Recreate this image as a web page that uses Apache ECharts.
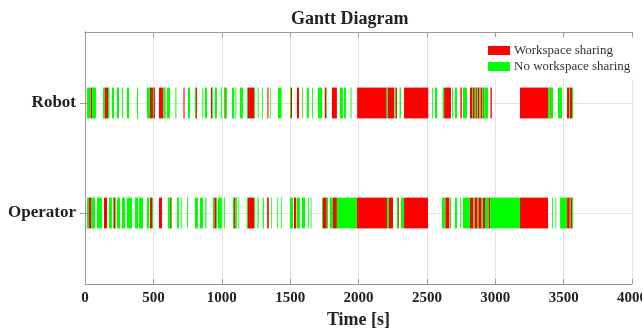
<!DOCTYPE html>
<html>
<head>
<meta charset="utf-8">
<script src="https://cdn.jsdelivr.net/npm/echarts@6/dist/echarts.min.js"></script>
<style>
  html, body { margin: 0; padding: 0; background: #fff; }
  #chart { width: 642px; height: 329px; }
</style>
</head>
<body>
<div id="chart"></div>
<script>
// Rows of the schedule, bottom to top (y = 1, 2)
const rows = ['Operator', 'Robot'];
const seriesNames = ['Workspace sharing', 'No workspace sharing'];
const yTickValues = [1, 2];

// Time intervals [start, end] in seconds
const robotSharing = [
  [40, 52], [146, 168], [475, 497], [505, 512], [541, 570], [575, 580], [720, 728],
  [812, 819], [921, 930], [1026, 1032], [1192, 1236], [1334, 1342], [1506, 1514],
  [1550, 1565], [1754, 1764], [1806, 1842], [1990, 2206], [2215, 2260], [2270, 2281],
  [2333, 2510], [2626, 2676], [2745, 2755], [2815, 2830], [2836, 2850], [2856, 2866],
  [2872, 2884], [2892, 2904], [2912, 2920], [2965, 2975], [3181, 3386], [3398, 3405],
  [3525, 3540], [3546, 3562]
];
const robotFree = [
  [15, 40], [52, 80], [132, 146], [168, 178], [197, 212], [234, 249], [272, 278],
  [307, 322], [380, 387], [453, 475], [497, 505], [570, 575], [580, 590], [600, 621],
  [661, 668], [753, 768], [804, 812], [858, 865], [877, 892], [930, 936], [950, 965],
  [993, 1000], [1016, 1026], [1032, 1038], [1075, 1090], [1100, 1106], [1133, 1155],
  [1184, 1192], [1236, 1243], [1263, 1270], [1294, 1300], [1352, 1358], [1411, 1433],
  [1436, 1440], [1499, 1506], [1587, 1593], [1623, 1637], [1660, 1666], [1703, 1733],
  [1764, 1769], [1864, 1886], [1893, 1908], [1942, 1949], [2206, 2215], [2262, 2270],
  [2300, 2310], [2538, 2544], [2559, 2574], [2616, 2626], [2684, 2690], [2705, 2720],
  [2764, 2793], [2830, 2836], [2850, 2856], [2866, 2872], [2884, 2892], [2904, 2912],
  [2920, 2947], [3386, 3398], [3405, 3423], [3459, 3488], [3540, 3546], [3562, 3569]
];
const operatorSharing = [
  [25, 45], [139, 161], [208, 222], [475, 490], [541, 563], [620, 628], [945, 958],
  [1090, 1100], [1192, 1236], [1332, 1344], [1528, 1545], [1740, 1768], [1813, 1842],
  [1989, 2208], [2223, 2252], [2290, 2296], [2333, 2508], [2635, 2665], [2815, 2840],
  [2848, 2870], [2876, 2900], [2908, 2925], [2950, 2962], [3181, 3386], [3525, 3545],
  [3550, 3562]
];
const operatorFree = [
  [15, 25], [45, 73], [88, 124], [175, 197], [205, 208], [222, 227], [234, 256],
  [270, 292], [307, 344], [366, 388], [395, 424], [453, 470], [490, 497], [607, 620],
  [628, 636], [673, 687], [700, 707], [746, 752], [804, 826], [841, 863], [880, 888],
  [936, 945], [958, 965], [972, 1001], [1015, 1022], [1082, 1090], [1100, 1111],
  [1122, 1128], [1184, 1192], [1236, 1243], [1262, 1270], [1300, 1308], [1362, 1368],
  [1406, 1412], [1432, 1438], [1499, 1521], [1550, 1572], [1587, 1609], [1632, 1638],
  [1650, 1656], [1733, 1740], [1768, 1777], [1791, 1813], [1842, 1989], [2208, 2223],
  [2281, 2290], [2311, 2333], [2610, 2632], [2669, 2676], [2705, 2720], [2744, 2750],
  [2764, 2815], [2840, 2848], [2870, 2876], [2900, 2908], [2925, 2950], [2962, 3181],
  [3415, 3421], [3440, 3446], [3474, 3525], [3545, 3550], [3562, 3569]
];

const xTickLabels = ['0', '500', '1000', '1500', '2000', '2500', '3000', '3500', '4000'];

const SERIF = '"Liberation Serif", "DejaVu Serif", serif';
const BAR_HALF = 0.14;   // half bar thickness in row units
const AXIS_GRAY = '#9a9a9a';

function toItems(list, row) {
  return list.map(([s, e]) => [s, e, row]);
}

function renderBar(params, api) {
  const y = api.value(2);
  const p0 = api.coord([api.value(0), y + BAR_HALF]);
  const p1 = api.coord([api.value(1), y - BAR_HALF]);
  return {
    type: 'rect',
    shape: { x: p0[0], y: p0[1], width: p1[0] - p0[0], height: p1[1] - p0[1] },
    style: api.style()
  };
}

const chart = echarts.init(document.getElementById('chart'), null, { renderer: 'canvas' });

const xBase = {
  type: 'value', min: 0, max: 4000, interval: 500,
  axisLine: { show: true, lineStyle: { color: AXIS_GRAY, width: 1 } },
  axisTick: { show: true, inside: true, length: 5, lineStyle: { color: AXIS_GRAY } }
};
const yBase = {
  type: 'value', min: 0.355, max: 2.645,
  axisLine: { show: true, lineStyle: { color: AXIS_GRAY, width: 1 } },
  axisTick: { show: true, inside: true, length: 5, customValues: yTickValues, lineStyle: { color: AXIS_GRAY } }
};

chart.setOption({
  animation: false,
  backgroundColor: '#fff',
  title: {
    text: 'Gantt Diagram',
    left: 286, top: 5,
    textStyle: { fontFamily: SERIF, fontSize: 18, fontWeight: 'bold', color: '#222' }
  },
  legend: {
    orient: 'vertical',
    left: 482, top: 38,
    padding: [6, 4, 6, 6],
    backgroundColor: '#fff',
    itemWidth: 22, itemHeight: 9, itemGap: 3,
    data: seriesNames.map(n => ({ name: n, icon: 'rect' })),
    textStyle: { fontFamily: SERIF, fontSize: 13, color: '#333', padding: [0, 0, 0, -1] }
  },
  grid: { left: 85, right: 10, top: 32, bottom: 45, containLabel: false, outerBoundsMode: 'none' },
  xAxis: [
    Object.assign({}, xBase, {
      position: 'bottom',
      name: 'Time [s]', nameLocation: 'middle', nameGap: 26,
      nameTextStyle: { fontFamily: SERIF, fontSize: 18, fontWeight: 'bold', color: '#222' },
      axisLabel: {
        margin: 7, fontFamily: SERIF, fontSize: 15, fontWeight: 'bold', color: '#222',
        formatter: v => xTickLabels[Math.round(v / 500)]
      },
      splitLine: { show: true, lineStyle: { color: '#e4e4e4', width: 1 } }
    }),
    Object.assign({}, xBase, {
      position: 'top',
      axisLabel: { show: false },
      splitLine: { show: false }
    })
  ],
  yAxis: [
    Object.assign({}, yBase, {
      position: 'left',
      axisLabel: {
        customValues: yTickValues, margin: 9,
        fontFamily: SERIF, fontSize: 17, fontWeight: 'bold', color: '#222',
        formatter: v => rows[Math.round(v) - 1]
      },
      splitLine: { show: true, lineStyle: { color: '#e4e4e4', width: 1 } }
    }),
    Object.assign({}, yBase, {
      position: 'right',
      axisLabel: { show: false },
      splitLine: { show: false }
    })
  ],
  series: [
    {
      name: seriesNames[0], type: 'custom', renderItem: renderBar,
      itemStyle: { color: '#ff0000' },
      encode: { x: [0, 1], y: 2 },
      data: toItems(robotSharing, 2).concat(toItems(operatorSharing, 1))
    },
    {
      name: seriesNames[1], type: 'custom', renderItem: renderBar,
      itemStyle: { color: '#00ff00' },
      encode: { x: [0, 1], y: 2 },
      data: toItems(robotFree, 2).concat(toItems(operatorFree, 1))
    }
  ]
});
</script>
</body>
</html>
